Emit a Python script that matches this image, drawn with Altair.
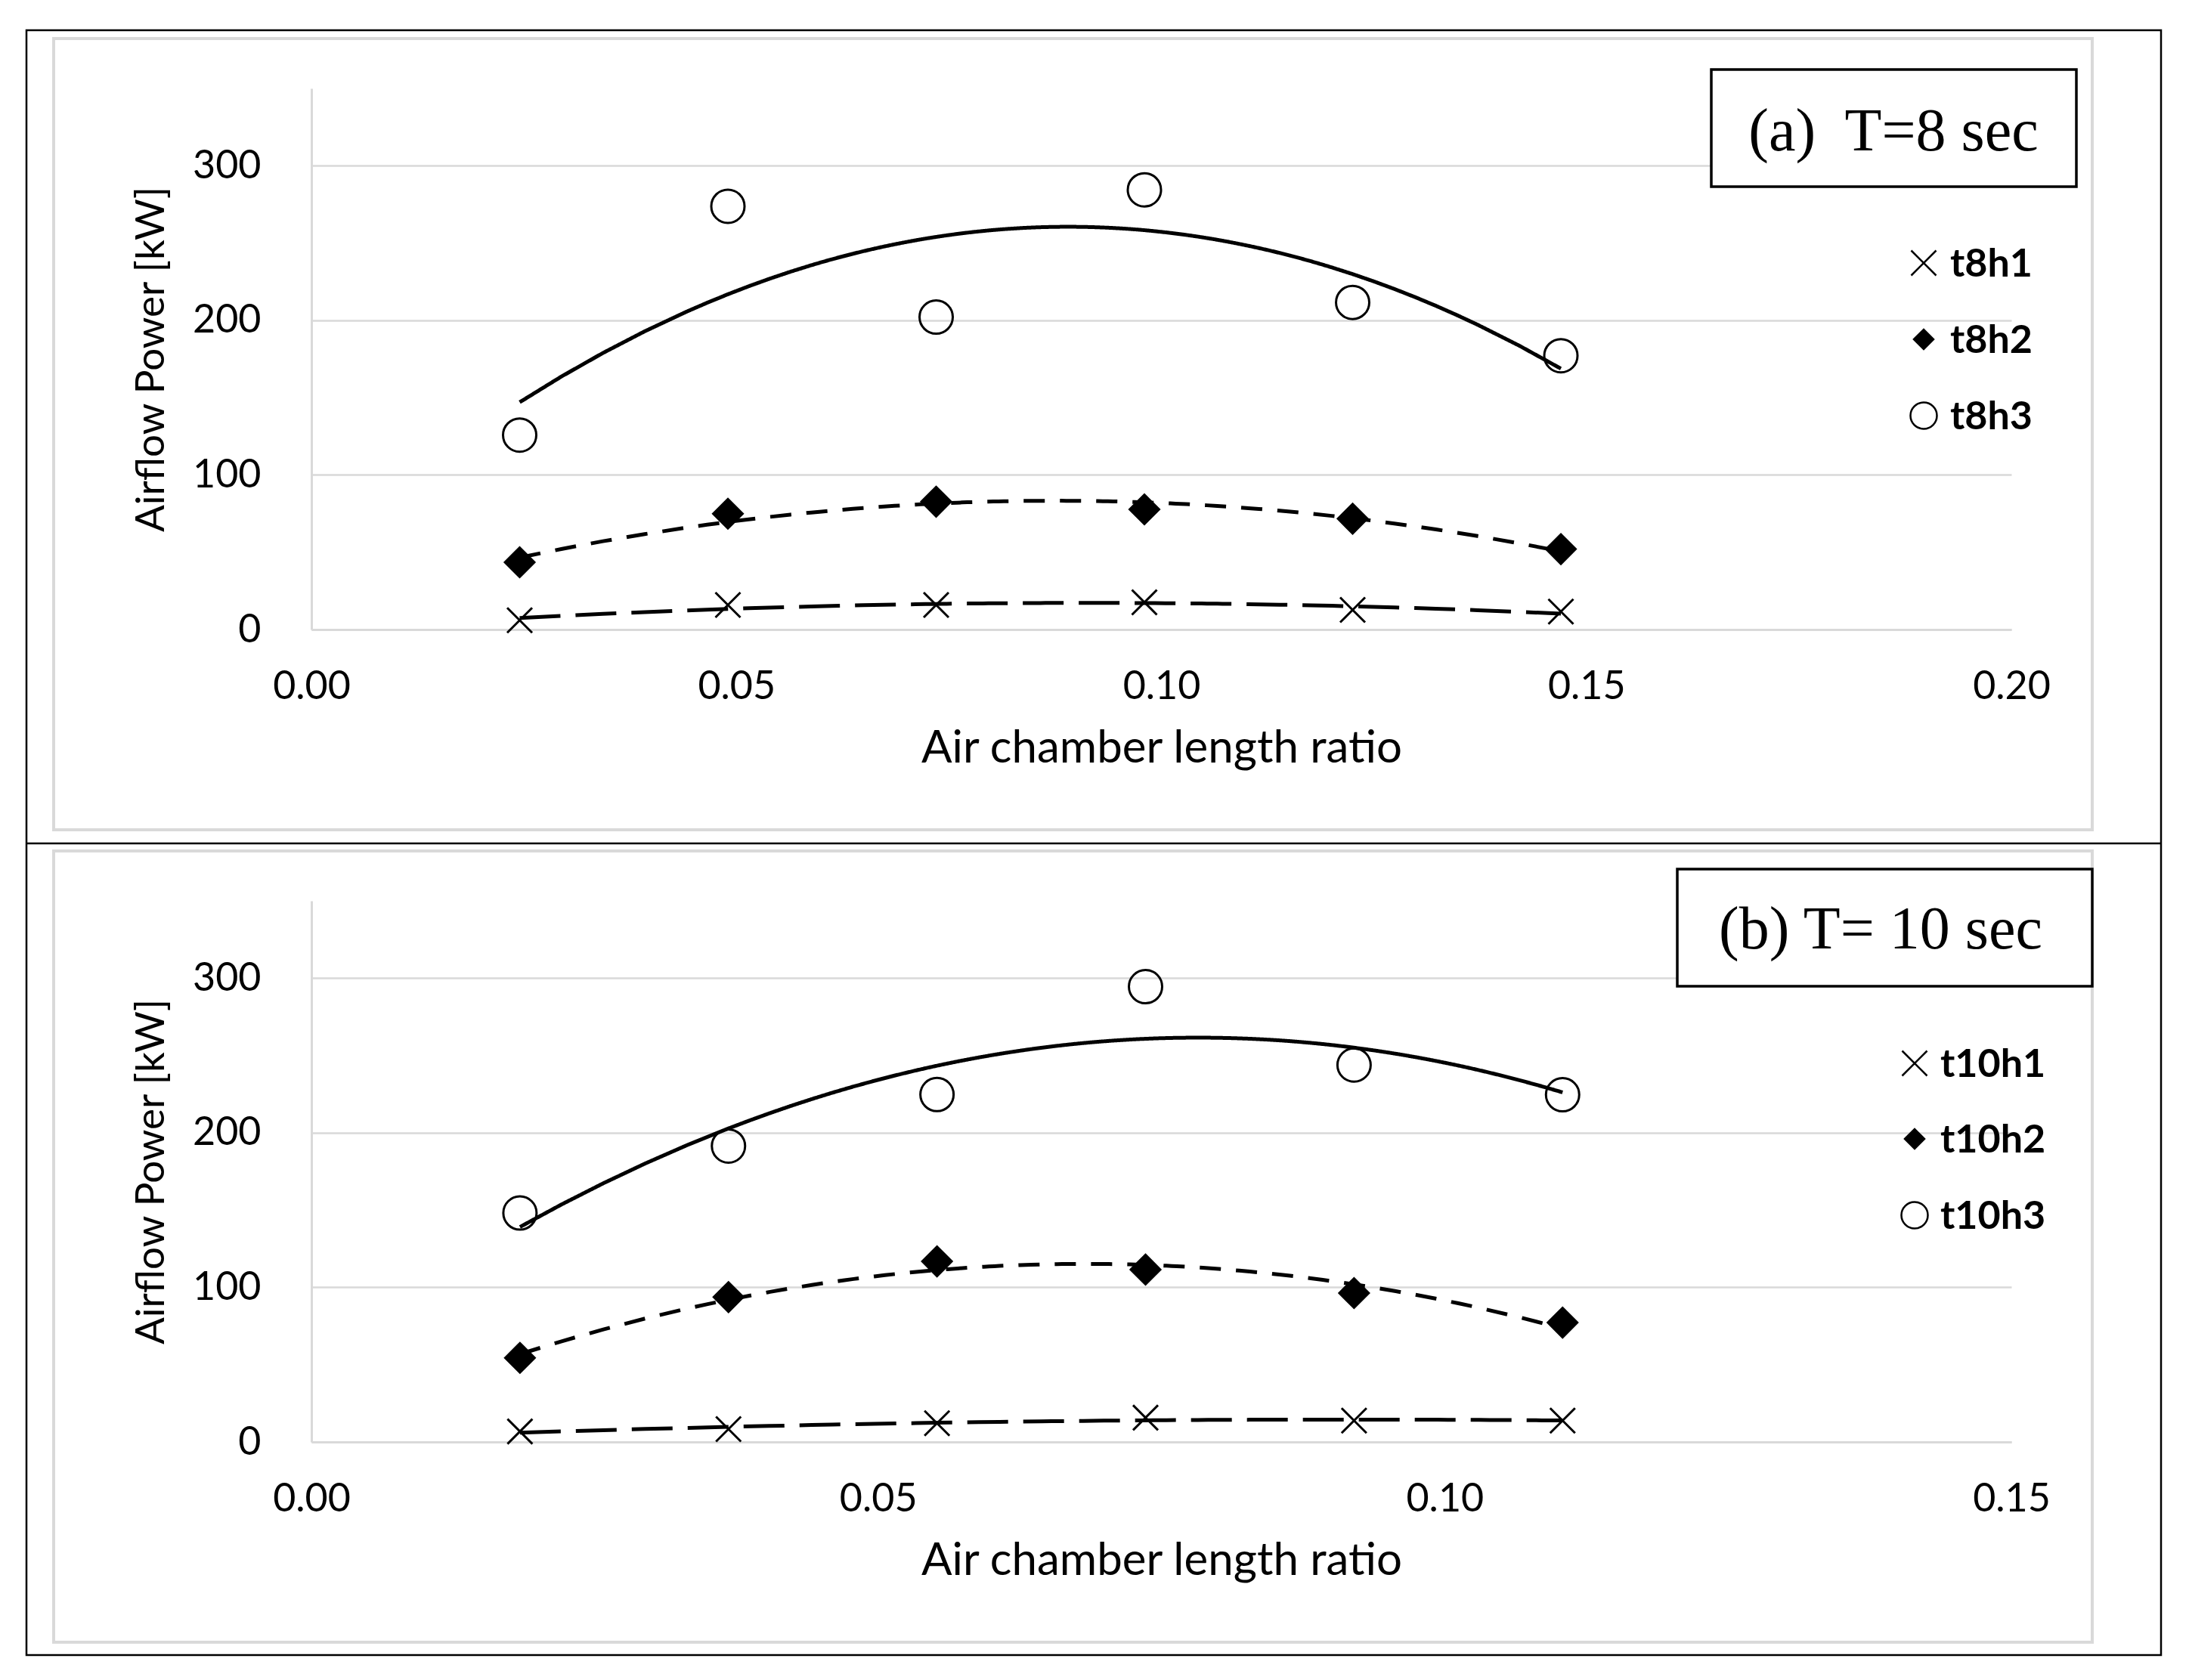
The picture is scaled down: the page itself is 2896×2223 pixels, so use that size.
import altair as alt
import pandas as pd

# ---- data ----
x8 = [0.0245, 0.049, 0.0735, 0.098, 0.1225, 0.147]
t8h1 = [6.0, 15.9, 15.9, 17.6, 12.7, 11.6]
t8h2 = [43.5, 74.9, 82.7, 77.7, 71.7, 52.0]
t8h3 = [125.8, 273.8, 202.1, 284.4, 211.6, 177.1]

x10 = [0.0184, 0.0368, 0.0552, 0.0736, 0.092, 0.1104]
t10h1 = [6.8, 8.3, 12.1, 15.7, 13.8, 13.8]
t10h2 = [54.4, 93.7, 116.8, 111.5, 96.3, 77.2]
t10h3 = [148.1, 191.4, 224.7, 294.5, 243.8, 224.6]

names8 = ["t8h1", "t8h2", "t8h3"]
names10 = ["t10h1", "t10h2", "t10h3"]
xticks8 = [0.0, 0.05, 0.10, 0.15, 0.20]
xticks10 = [0.0, 0.05, 0.10, 0.15]
yticks = [0, 100, 200, 300]

W, H = 2249, 716
XPATH = "M-1,-1L1,1M1,-1L-1,1"
FONT = "Lato"
SHAPES = [XPATH, "diamond", "circle"]
FILLS = ["transparent", "black", "transparent"]


def one(k):
    return pd.DataFrame({"k": [k]})


def panel(xs, series, names, xmax, xticks, label, box, text_pos, leg, outer):
    rows = []
    for name, vals in zip(names, series):
        for xv, yv in zip(xs, vals):
            rows.append({"x": xv, "y": yv, "series": name})
    df = pd.DataFrame(rows)

    xsc = alt.Scale(domain=[0, xmax], nice=False, zero=True)
    ysc = alt.Scale(domain=[0, 350], nice=False)
    xax = alt.Axis(values=xticks, format=".2f", grid=False, ticks=False, tickSize=0,
                   domainColor="#d9d9d9", domainWidth=3, labelPadding=50,
                   labelFlush=False, labelOverlap=False,
                   title="Air chamber length ratio", titleY=175,
                   titleBaseline="alphabetic", titleFontSize=60)
    yax = alt.Axis(values=yticks, grid=True, gridColor="#d9d9d9", gridWidth=2.5,
                   ticks=False, tickSize=0, domainColor="#d9d9d9", domainWidth=3,
                   labelPadding=67, labelFlush=False, labelOverlap=False,
                   title="Airflow Power [kW]", titleX=-212,
                   titleY=H / 2, titleAngle=-90, titleBaseline="middle",
                   titleAlign="center", titleFontSize=53)

    layers = []
    # gray chart-area frame
    layers.append(alt.Chart(one(0)).mark_rect(fillOpacity=0, stroke="#d9d9d9", strokeWidth=4).encode(
        x=alt.value(-341), x2=alt.value(2356), y=alt.value(-66), y2=alt.value(981)))
    if outer:
        layers.append(alt.Chart(one(1)).mark_rect(fillOpacity=0, stroke="black", strokeWidth=2.5).encode(
            x=alt.value(-377), x2=alt.value(2447), y=alt.value(-77), y2=alt.value(2073)))
        layers.append(alt.Chart(one(2)).mark_rule(stroke="black", strokeWidth=2.5).encode(
            x=alt.value(-377), x2=alt.value(2447), y=alt.value(999)))

    lines = alt.Chart(df).transform_regression(
        "x", "y", groupby=["series"], method="poly", order=2
    ).mark_line(color="black", strokeWidth=5).encode(
        x=alt.X("x:Q", scale=xsc, axis=xax),
        y=alt.Y("y:Q", scale=ysc, axis=yax),
        strokeDash=alt.StrokeDash("series:N", scale=alt.Scale(domain=names, range=[[54, 20], [28, 20], [1, 0]]), legend=None),
        detail="series:N",
    )
    layers.append(lines)

    pts = alt.Chart(df).mark_point(filled=True, stroke="black", strokeWidth=3, opacity=1).encode(
        x=alt.X("x:Q", scale=xsc, axis=xax),
        y=alt.Y("y:Q", scale=ysc, axis=yax),
        shape=alt.Shape("series:N", scale=alt.Scale(domain=names, range=SHAPES), legend=None),
        fill=alt.Fill("series:N", scale=alt.Scale(domain=names, range=FILLS), legend=None),
        size=alt.Size("series:N", scale=alt.Scale(domain=names, range=[1089, 1936, 1600]), legend=None),
    )
    layers.append(pts)

    # legend (symbol + label per series)
    cx, tx, ys = leg
    lsizes = [1089, 676, 1225]
    for i, name in enumerate(names):
        ldf = pd.DataFrame({"series": [name]})
        layers.append(alt.Chart(ldf).mark_point(shape=SHAPES[i], filled=True, fill=FILLS[i], stroke="black",
                                                strokeWidth=2.5, size=lsizes[i], opacity=1).encode(
            x=alt.value(cx), y=alt.value(ys[i])))
        layers.append(alt.Chart(ldf).mark_text(font=FONT, fontWeight="bold", fontSize=52, align="left",
                                               baseline="middle", color="black").encode(
            x=alt.value(tx), y=alt.value(ys[i] + 2), text="series:N"))

    layers.append(alt.Chart(one(3)).mark_rect(fill="white", stroke="black", strokeWidth=3.5).encode(
        x=alt.value(box[0]), x2=alt.value(box[1]), y=alt.value(box[2]), y2=alt.value(box[3])))
    layers.append(alt.Chart(one(4)).mark_text(font="Liberation Serif", fontSize=80, align="center",
                                             baseline="alphabetic", color="black").encode(
        x=alt.value(text_pos[0]), y=alt.value(text_pos[1]), text=alt.value(label)))

    return alt.layer(*layers).resolve_scale(strokeDash="independent").properties(width=W, height=H)


pa = panel(x8, [t8h1, t8h2, t8h3], names8, 0.20, xticks8, "(a)\u00a0 T=8 sec",
           (1852, 2335, -25, 130), (2093, 82), (2133, 2168, [231, 332, 433]), True)
pb = panel(x10, [t10h1, t10h2, t10h3], names10, 0.15, xticks10, "(b) T= 10 sec",
           (1807, 2356, -42, 113), (2076, 63), (2121, 2155, [215, 315, 416]), False)

chart = alt.vconcat(pa, pb, spacing=359, bounds="flush").resolve_scale(
    x="independent", y="independent", shape="independent", fill="independent",
    size="independent", strokeDash="independent"
).properties(
    padding={"left": 25, "top": 30, "right": 10, "bottom": 10},
    background="white",
).configure_view(stroke=None).configure_axis(
    labelFont=FONT, labelFontSize=52, labelColor="black",
    titleFont=FONT, titleFontWeight="normal", titleColor="black",
)

chart.save("out.html", embed_options={"renderer": "svg", "actions": False})
